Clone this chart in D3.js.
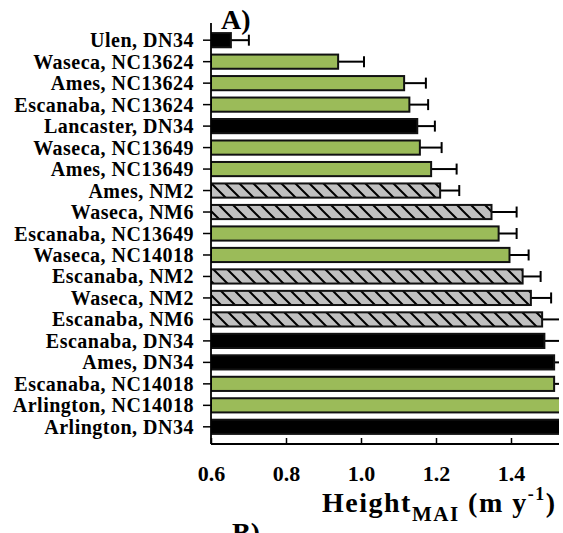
<!DOCTYPE html>
<html>
<head>
<meta charset="utf-8">
<script src="https://cdn.jsdelivr.net/npm/d3@7"></script>
<style>
  html, body { margin: 0; padding: 0; background: #fff; }
  svg { display: block; }
  text { font-family: "Liberation Serif", "Times New Roman", serif; font-weight: bold; fill: #000; }
</style>
</head>
<body>
<svg id="chart" width="563" height="533"></svg>
<script>
// ---- data ----
const categories = [
  "Ulen, DN34", "Waseca, NC13624", "Ames, NC13624", "Escanaba, NC13624",
  "Lancaster, DN34", "Waseca, NC13649", "Ames, NC13649", "Ames, NM2",
  "Waseca, NM6", "Escanaba, NC13649", "Waseca, NC14018", "Escanaba, NM2",
  "Waseca, NM2", "Escanaba, NM6", "Escanaba, DN34", "Ames, DN34",
  "Escanaba, NC14018", "Arlington, NC14018", "Arlington, DN34"
];
const heightValues = [
  0.653, 0.939, 1.115, 1.129,
  1.150, 1.157, 1.187, 1.211,
  1.348, 1.367, 1.396, 1.431,
  1.453, 1.483, 1.489, 1.515,
  1.515, 1.60, 1.65
];
const errorValues = [
  0.048, 0.069, 0.058, 0.050,
  0.047, 0.058, 0.068, 0.051,
  0.067, 0.048, 0.051, 0.048,
  0.054, 0.060, 0.060, 0.050,
  0.050, 0.050, 0.050
];
// genotype group: DN34 = black, NC = green, NM = hatched grey
const groups = categories.map(c => c.includes("DN34") ? "DN" : (c.includes("NC") ? "NC" : "NM"));
const xTicks = [0.6, 0.8, 1.0, 1.2, 1.4];
const xTickLabels = ["0.6", "0.8", "1.0", "1.2", "1.4"];

// ---- layout ----
const svg = d3.select("#chart");
const mLeft = 211, mRight = 559, mTop = 23, mBottom = 444;

const x = d3.scaleLinear().domain([0.6, 1.4]).range([mLeft, 511]);
const y = d3.scaleBand().domain(categories).range([mTop, mBottom])
  .paddingInner(0.34).paddingOuter(0.47);

const defs = svg.append("defs");
const s = 14;
const pat = defs.append("pattern").attr("id", "hatch")
  .attr("patternUnits", "userSpaceOnUse").attr("width", s).attr("height", s);
pat.append("rect").attr("width", s).attr("height", s).attr("fill", "#c0c0c0");
pat.append("path")
  .attr("d", `M0,0 L${s},${s} M${-s/2},${s/2} L${s/2},${s*1.5} M${s/2},${-s/2} L${s*1.5},${s/2}`)
  .attr("stroke", "#000").attr("stroke-width", 2);

defs.append("clipPath").attr("id", "plotclip")
  .append("rect").attr("x", mLeft).attr("y", 0).attr("width", mRight - mLeft).attr("height", 533);

const fillFor = g => g === "DN" ? "#000" : (g === "NC" ? "#9bbb59" : "url(#hatch)");

const plot = svg.append("g").attr("clip-path", "url(#plotclip)");

// error bars
const eb = plot.append("g");
categories.forEach((c, i) => {
  const yc = y(c) + y.bandwidth() / 2;
  const x0 = x(heightValues[i]);
  const x1 = x(heightValues[i] + errorValues[i]);
  eb.append("line").attr("x1", x0).attr("x2", x1).attr("y1", yc).attr("y2", yc)
    .attr("stroke", "#000").attr("stroke-width", 2);
  eb.append("line").attr("x1", x1).attr("x2", x1).attr("y1", yc - 5.5).attr("y2", yc + 5.5)
    .attr("stroke", "#000").attr("stroke-width", 2);
});

// bars
plot.append("g").selectAll("rect").data(categories).join("rect")
  .attr("x", x(0.6))
  .attr("y", d => y(d))
  .attr("width", (d, i) => x(heightValues[i]) - x(0.6))
  .attr("height", y.bandwidth())
  .attr("fill", (d, i) => fillFor(groups[i]))
  .attr("stroke", "#111")
  .attr("stroke-width", 2);

// y axis
const yAxis = svg.append("g").attr("transform", `translate(${mLeft},0)`)
  .call(d3.axisLeft(y).tickSize(8).tickPadding(9));
yAxis.select(".domain").remove();
yAxis.selectAll(".tick line").attr("stroke", "#000").attr("stroke-width", 1.5);
yAxis.selectAll(".tick text")
  .style("font-size", "20px").style("font-family", "Liberation Serif").style("font-weight", "bold")
  .style("letter-spacing", "0.5px")
  .attr("dy", "0.35em");
svg.append("line").attr("x1", mLeft).attr("x2", mLeft).attr("y1", mTop).attr("y2", mBottom)
  .attr("stroke", "#000").attr("stroke-width", 1.8);

// x axis
const xAxis = svg.append("g").attr("transform", `translate(0,${mBottom})`)
  .call(d3.axisBottom(x).tickValues(xTicks).tickFormat((d, i) => xTickLabels[i]).tickSize(-6).tickSizeOuter(0));
xAxis.select(".domain").remove();
xAxis.selectAll(".tick line").attr("stroke", "#000").attr("stroke-width", 1.5);
xAxis.selectAll(".tick text")
  .style("font-size", "22px").style("font-family", "Liberation Serif").style("font-weight", "bold")
  .attr("y", 37).attr("dy", 0);
svg.append("line").attr("x1", mLeft).attr("x2", mRight).attr("y1", mBottom).attr("y2", mBottom)
  .attr("stroke", "#000").attr("stroke-width", 1.8);

// panel labels
svg.append("text").attr("x", 221).attr("y", 29).style("font-size", "28px").text("A)");
svg.append("text").attr("x", 232).attr("y", 542).style("font-size", "28px").text("B)");

// axis title
const t = svg.append("text").attr("x", 322).attr("y", 512).style("font-size", "28px")
  .style("letter-spacing", "1.5px");
t.append("tspan").text("Height");
t.append("tspan").attr("dy", 9).style("font-size", "21px").text("MAI");
t.append("tspan").attr("dy", -9).text(" (m y");
t.append("tspan").attr("dy", -12).style("font-size", "18px").text("-1");
t.append("tspan").attr("dy", 12).text(")");
</script>
</body>
</html>
